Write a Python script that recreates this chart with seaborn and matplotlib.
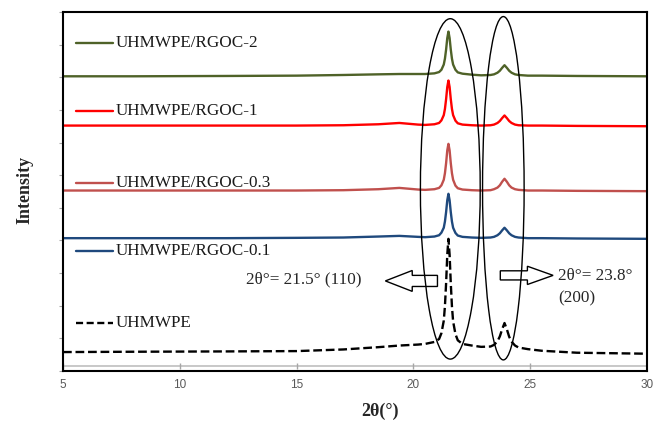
import numpy as np
import pandas as pd
import matplotlib
matplotlib.use("Agg")
import matplotlib.pyplot as plt
import matplotlib.patches as mpatches
import seaborn as sns

# 2theta positions (deg) shared by every pattern
two_theta = [5, 8, 12, 15, 17, 18.5, 19.4, 20.2, 20.5, 20.9, 21.1, 21.2, 21.3, 21.35, 21.4,
             21.45, 21.5, 21.55, 21.6, 21.65, 21.7, 21.8, 21.9, 22.1, 22.5, 22.9, 23.3, 23.45,
             23.6, 23.7, 23.8, 23.9, 24.0, 24.1, 24.2, 24.35, 24.5, 24.9, 25.5, 27, 30]

# intensity (stacked, arbitrary units)
rgoc_2 = [9.03, 9.03, 9.04, 9.05, 9.07, 9.09, 9.10, 9.10, 9.10, 9.12, 9.16, 9.23, 9.39, 9.57, 9.85,
          10.20, 10.40, 10.20, 9.85, 9.57, 9.39, 9.23, 9.15, 9.11, 9.08, 9.06, 9.07, 9.09,
          9.14, 9.20, 9.29, 9.37, 9.29, 9.20, 9.14, 9.09, 9.07, 9.05, 9.05, 9.04, 9.03]
rgoc_1 = [7.52, 7.52, 7.52, 7.52, 7.53, 7.56, 7.60, 7.55, 7.54, 7.56, 7.60, 7.68, 7.84, 8.03, 8.33,
          8.70, 8.90, 8.70, 8.33, 8.03, 7.84, 7.67, 7.59, 7.55, 7.53, 7.52, 7.53, 7.55,
          7.60, 7.66, 7.75, 7.83, 7.75, 7.66, 7.60, 7.55, 7.53, 7.52, 7.52, 7.51, 7.50]
rgoc_03 = [5.53, 5.53, 5.53, 5.53, 5.54, 5.57, 5.61, 5.56, 5.55, 5.57, 5.61, 5.69, 5.86, 6.06, 6.37,
           6.76, 6.96, 6.76, 6.37, 6.06, 5.86, 5.68, 5.60, 5.56, 5.54, 5.53, 5.54, 5.57,
           5.62, 5.69, 5.80, 5.89, 5.80, 5.69, 5.62, 5.57, 5.55, 5.53, 5.53, 5.52, 5.51]
rgoc_01 = [4.07, 4.07, 4.07, 4.08, 4.09, 4.12, 4.14, 4.11, 4.10, 4.12, 4.16, 4.24, 4.39, 4.58, 4.87,
           5.23, 5.43, 5.23, 4.87, 4.58, 4.39, 4.23, 4.15, 4.11, 4.09, 4.08, 4.09, 4.11,
           4.16, 4.22, 4.31, 4.39, 4.31, 4.22, 4.16, 4.11, 4.09, 4.07, 4.07, 4.06, 4.05]
uhmwpe = [0.58, 0.59, 0.60, 0.61, 0.66, 0.73, 0.78, 0.81, 0.83, 0.89, 0.98, 1.16, 1.54, 1.99, 2.69,
          3.56, 4.05, 3.56, 2.69, 1.98, 1.52, 1.13, 0.94, 0.83, 0.78, 0.74, 0.75, 0.80,
          0.91, 1.06, 1.28, 1.47, 1.28, 1.05, 0.90, 0.78, 0.72, 0.67, 0.62, 0.56, 0.53]

names = ["UHMWPE/RGOC-2", "UHMWPE/RGOC-1", "UHMWPE/RGOC-0.3", "UHMWPE/RGOC-0.1", "UHMWPE"]
colors = ["#4f6228", "#ff0000", "#c0504d", "#1f497d", "black"]
label_y = [10.06, 7.98, 5.77, 3.68, 1.47]
x_ticks = [5, 10, 15, 20, 25, 30]

df = pd.DataFrame({"2theta": two_theta, names[0]: rgoc_2, names[1]: rgoc_1,
                   names[2]: rgoc_03, names[3]: rgoc_01, names[4]: uhmwpe})

sns.set_style("white")
plt.rcParams["font.family"] = ["Liberation Serif", "DejaVu Serif"]

fig = plt.figure(figsize=(6.54, 4.30), dpi=100)
ax = fig.add_axes([63 / 654, 1 - 371 / 430, 584 / 654, 359 / 430])

for name, c, ly in zip(names, colors, label_y):
    ls = "--" if name == "UHMWPE" else "-"
    sns.lineplot(data=df, x="2theta", y=name, color=c, lw=1.7, ax=ax,
                 linestyle=ls, dashes=False if ls == "-" else (3, 1.5), legend=False)
    # legend-like label inside the plot
    ln, = ax.plot([5.55, 7.15], [ly, ly], color=c, lw=1.7)
    if ls == "--":
        ln.set_dashes((3, 1.5))
    ax.text(7.25, ly, name, fontsize=12.3, va="center", ha="left", color="#1a1a1a")

# ellipses around the two reflections
ax.add_patch(mpatches.Ellipse((21.58, 5.58), 2.56, 10.43, fill=False, ec="black", lw=1.0, zorder=5))
ax.add_patch(mpatches.Ellipse((23.85, 5.6), 1.78, 10.52, fill=False, ec="black", lw=1.0, zorder=5))

# block arrows
ax.add_patch(mpatches.FancyArrow(21.03, 2.76, -2.23, 0, width=0.34, head_width=0.64,
                                 head_length=1.15, length_includes_head=True,
                                 fc="white", ec="black", lw=1.0, zorder=4))
ax.add_patch(mpatches.FancyArrow(23.72, 2.93, 2.26, 0, width=0.28, head_width=0.56,
                                 head_length=1.1, length_includes_head=True,
                                 fc="white", ec="black", lw=1.0, zorder=4))

ax.text(12.82, 2.82, "2θ°= 21.5° (110)", fontsize=12.3, va="center", ha="left")
ax.text(26.2, 2.91, "2θ°= 23.8°", fontsize=12.3, va="center", ha="left")
ax.text(26.2, 2.24, "(200)", fontsize=12.3, va="center", ha="left")

# gray category axis line with small tick marks
ax.axhline(0.15, color="#bfbfbf", lw=1.2, zorder=1)
ax.plot(x_ticks, [0.15] * len(x_ticks), ls="none", marker="|", ms=4, color="#a6a6a6", mew=1)

ax.set_xlim(5, 30)
ax.set_ylim(0, 11)
ax.set_xticks(x_ticks)
ax.set_yticks(range(12))
ax.set_yticklabels([])
ax.tick_params(axis="y", length=3, color="#a6a6a6", left=True, width=0.8)
ax.tick_params(axis="x", length=0, pad=6, labelsize=8.5, labelcolor="#595959")
for lab in ax.get_xticklabels():
    lab.set_fontfamily(["Liberation Sans", "DejaVu Sans"])
for s in ax.spines.values():
    s.set_color("black")
    s.set_linewidth(1.5)
ax.set_xlabel("")
ax.set_ylabel("")

fig.text(25 / 654, 1 - 190 / 430, "Intensity", rotation=90, fontsize=13, fontweight="bold",
         ha="center", va="center")
fig.text(380 / 654, 1 - 411 / 430, "2θ(°)", fontsize=13, fontweight="bold",
         ha="center", va="center")

fig.savefig("out.png", dpi=100)
